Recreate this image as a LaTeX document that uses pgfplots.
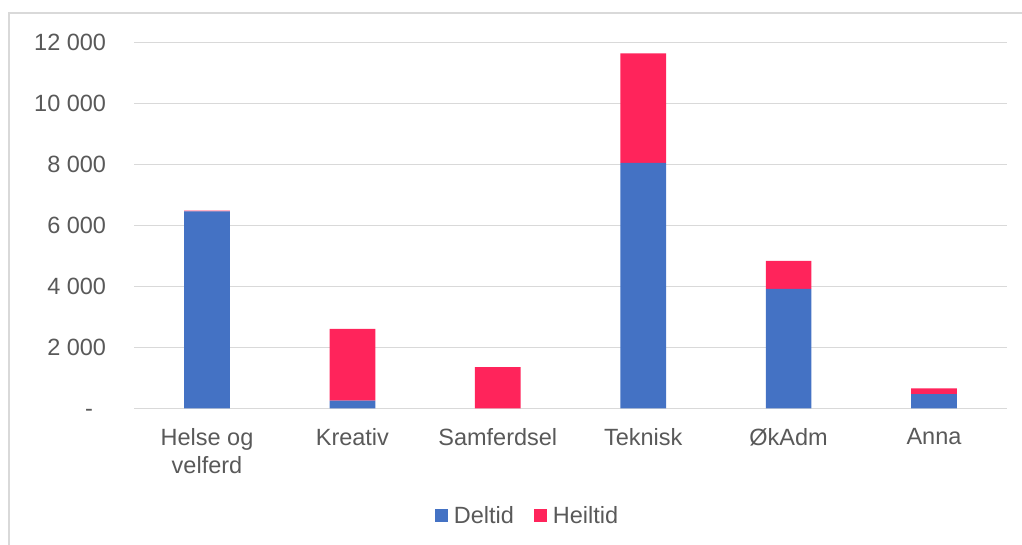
\documentclass[border=0pt]{standalone}
\usepackage{pgfplots}
\pgfplotsset{compat=1.18}
\usepackage{fontspec}
\setmainfont{Liberation Sans}
\definecolor{txt}{HTML}{595959}
\definecolor{gridc}{HTML}{D9D9D9}
\definecolor{blu}{HTML}{4472C4}
\definecolor{rd}{HTML}{FF245B}
\begin{document}
\begin{tikzpicture}
\path[use as bounding box] (-134.3pt,-136.5pt) rectangle (887.7pt,408.5pt);
\draw[gridc, line width=1.2pt] (-125.3pt,-140pt) -- (-125.3pt,395.5pt) -- (890pt,395.5pt);
\begin{axis}[
  at={(0pt,0pt)}, anchor=south west,
  scale only axis, width=872.4pt, height=366pt,
  ybar stacked, bar width=45.7pt,
  xmin=-0.5, xmax=5.5, ymin=0, ymax=12000,
  scaled y ticks=false,
  xtick={0,1,2,3,4,5},
  xticklabels={{Helse og\\velferd},Kreativ,Samferdsel,Teknisk,ØkAdm,Anna},
  ytick={0,2000,4000,6000,8000,10000,12000},
  yticklabels={{-\phantom{0}},2 000,4 000,6 000,8 000,10 000,12 000},
  major tick length=0pt,
  axis line style={draw=none},
  ymajorgrids,
  major grid style={gridc, line width=1.6pt},
  tick label style={font=\fontsize{23.5}{28}\selectfont, text=txt, inner sep=0pt},
  yticklabel style={anchor=east, xshift=-28pt},
  xticklabel style={anchor=north, align=center, yshift=-20pt},
  legend columns=2,
  legend style={at={(0.4496,-0.2937)}, anchor=center, draw=none, fill=none,
    inner sep=0pt, font=\fontsize{23.5}{28}\selectfont, text=txt,
    nodes={inner sep=0pt, anchor=west},
    /tikz/column sep=6pt,
    /tikz/every even column/.append style={column sep=20pt}},
  legend image code/.code={\fill[#1] (0pt,-6.5pt) rectangle (13pt,6.5pt);},
]
\addplot[fill=blu, draw=none] coordinates {(0,6460) (1,260) (2,0) (3,8050) (4,3920) (5,470)};
\addplot[fill=rd, draw=none] coordinates {(0,30) (1,2350) (2,1355) (3,3590) (4,920) (5,190)};
\legend{Deltid,Heiltid}
\end{axis}
\end{tikzpicture}
\end{document}
